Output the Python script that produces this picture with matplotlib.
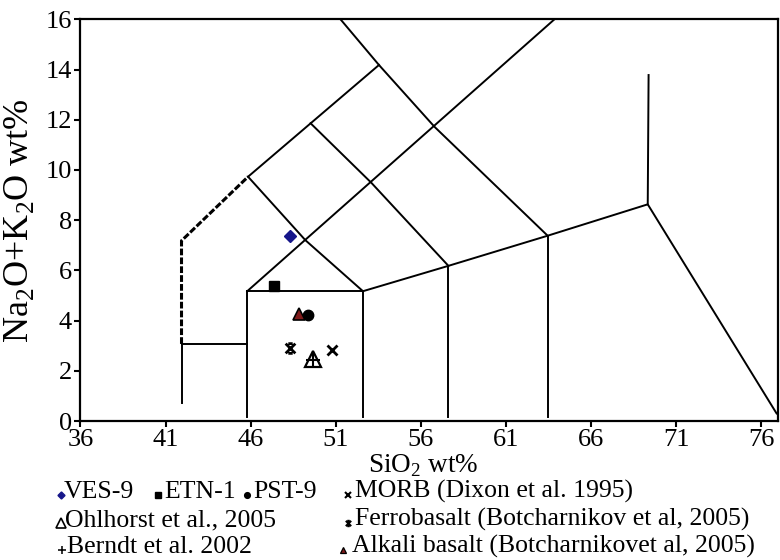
import matplotlib.pyplot as plt
from matplotlib.lines import Line2D
from matplotlib.path import Path
import numpy as np

plt.rcParams['font.family'] = 'Liberation Serif'
plt.rcParams['mathtext.fontset'] = 'custom'
plt.rcParams['mathtext.rm'] = 'Liberation Serif'

W, H = 780, 560

x_ticks = np.arange(36, 77, 5)
y_ticks = np.arange(0, 17, 2)

# TAS field boundaries, (SiO2, Na2O+K2O)
picro_left = ([41.94, 41.94], [0.7, 3.07])
picro_top = ([41.94, 45.8], [3.07, 3.07])
tephrite_dashed = ([41.94, 41.94, 45.85], [3.07, 7.18, 9.73])
basalt_left = ([45.8, 45.8], [0.15, 5.17])
basalt_top = ([45.8, 52.6], [5.17, 5.17])
basalt_right = ([52.6, 52.6], [0.15, 5.17])
bas_andesite_right = ([57.62, 57.62], [0.15, 6.18])
andesite_right = ([63.45, 63.45], [0.15, 7.38])
lower_chain = ([52.6, 57.62, 63.45, 69.33, 76.9], [5.17, 6.18, 7.38, 8.63, 0.3])
rhyolite_left = ([69.33, 69.38], [8.63, 13.78])
long_diag = ([45.8, 63.85], [5.17, 16.0])
trachybasalt_top = ([52.6, 49.22, 45.85], [5.17, 7.2, 9.73])
phonotephrite_top = ([45.85, 53.54], [9.73, 14.18])
trachyandesite_top = ([57.62, 53.09, 49.52], [6.18, 9.49, 11.86])
trachyte_left = ([51.28, 53.54, 56.8, 63.45], [16.0, 14.18, 11.72, 7.38])

solid_lines = [picro_left, picro_top, basalt_left, basalt_top, basalt_right,
               bas_andesite_right, andesite_right, lower_chain, rhyolite_left,
               long_diag, trachybasalt_top, phonotephrite_top,
               trachyandesite_top, trachyte_left]

# samples
ves9 = (48.3, 7.37)
etn1 = (47.38, 5.38)
pst9 = (49.37, 4.21)
morb = (50.8, 2.83)
ohlhorst = (49.67, 2.45)
ferrobasalt = (48.3, 2.92)
berndt = (49.67, 2.42)
alkali_basalt = (48.85, 4.25)

ferro_marker = Path([(-1, -1), (1, 1), (-1, 1), (1, -1),
                     (-0.45, 1), (0.45, 1), (-0.45, -1), (0.45, -1)],
                    [Path.MOVETO, Path.LINETO] * 4)

styles = {
    'ves9': dict(marker='D', color='#16168a', ms=6.5, mec='#16168a'),
    'etn1': dict(marker='s', color='k', ms=7.5),
    'pst9': dict(marker='o', color='k', ms=7.5),
    'morb': dict(marker='x', color='k', ms=7, mew=2),
    'ohlhorst': dict(marker='^', mfc='white', mec='k', ms=12, mew=1.6),
    'ferro': dict(marker=ferro_marker, mfc='none', mec='k', ms=7, mew=2),
    'berndt': dict(marker='+', color='k', ms=10, mew=1.5),
    'alkali': dict(marker='^', mfc='#7f1a1a', mec='k', ms=8.5, mew=1.2),
}

fig = plt.figure(figsize=(W / 100, H / 100), dpi=100)
ax = fig.add_axes([80.4 / W, 1 - 421 / H, (778.3 - 80.4) / W, (421 - 19.3) / H])

for xs, ys in solid_lines:
    ax.plot(xs, ys, color='k', lw=1.4)
ax.plot(*tephrite_dashed, color='k', lw=2.2, ls=(0, (2.2, 0.7)))

ax.plot(*ves9, ls='none', **styles['ves9'])
ax.plot(*etn1, ls='none', **styles['etn1'])
ax.plot(*pst9, ls='none', **styles['pst9'])
ax.plot(*alkali_basalt, ls='none', **styles['alkali'])
ax.plot(*ferrobasalt, ls='none', **styles['ferro'])
ax.plot(*morb, ls='none', **styles['morb'])
ax.plot(*ohlhorst, ls='none', **styles['ohlhorst'])
ax.plot(*berndt, ls='none', **styles['berndt'])

ax.set_xlim(36, 77)
ax.set_ylim(0, 16)
ax.set_xticks(x_ticks)
ax.set_yticks(y_ticks)
ax.tick_params(direction='out', length=4, width=1.5, labelsize=19, pad=2)
for sp in ax.spines.values():
    sp.set_linewidth(1.6)

ax.set_xlabel('SiO$_\\mathrm{2}$ wt%', fontsize=19.5)
ax.xaxis.set_label_coords(0.491, -0.079)
ax.set_ylabel('Na$_\\mathrm{2}$O+K$_\\mathrm{2}$O wt%', fontsize=26)
ax.yaxis.set_label_coords(-0.064, 0.5)

# legend, drawn as small markers followed by text
legend_rows = [
    (498, [(60.7, 64, 'ves9', 'VES-9'), (158, 164, 'etn1', 'ETN-1'),
           (246.7, 253, 'pst9', 'PST-9'), (348, 355, 'morb', 'MORB (Dixon et al. 1995)')]),
    (526, [(60.7, 65, 'ohlhorst', 'Ohlhorst et al., 2005'),
           (348, 355, 'ferro', 'Ferrobasalt (Botcharnikov et al, 2005)')]),
    (553, [(61.7, 66.7, 'berndt', 'Berndt et al. 2002'),
           (343, 352, 'alkali', 'Alkali basalt (Botcharnikovet al, 2005)')]),
]
for base, entries in legend_rows:
    for mx, tx, key, label in entries:
        st = dict(styles[key])
        st['ms'] = st['ms'] * 0.55
        if 'mew' in st:
            st['mew'] = st['mew'] * 0.75
        fig.add_artist(Line2D([mx / W], [1 - (base - 3) / H], transform=fig.transFigure,
                              ls='none', **st))
        fig.text(tx / W, 1 - base / H, label, fontsize=18.5, va='baseline', ha='left')

fig.savefig('out.png', dpi=100)
plt.close(fig)
